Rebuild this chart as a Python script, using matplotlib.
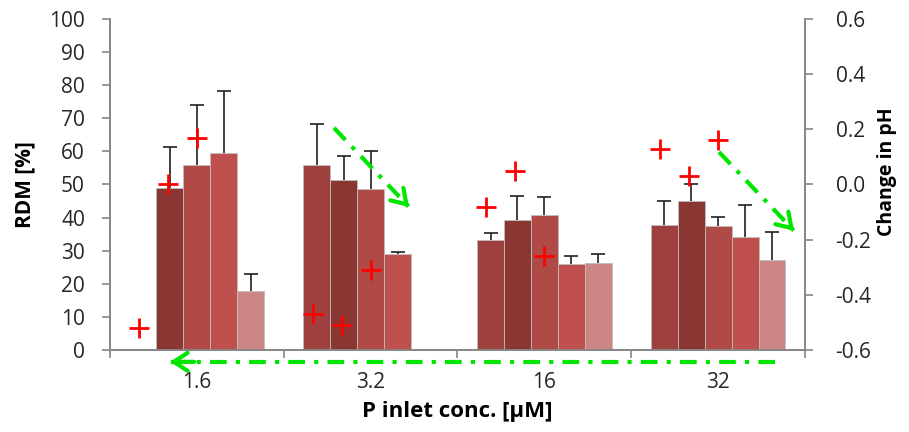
import numpy as np
import matplotlib
matplotlib.use('Agg')
import matplotlib.pyplot as plt

plt.rcParams['font.family'] = ['Open Sans', 'DejaVu Sans']

# categories on the x axis
categories = ['1.6', '3.2', '16', '32']

# RDM [%] bars, five series (NaN = no bar)
rdm_s1 = [np.nan, 56.0, 33.1, 37.7]
rdm_s2 = [49.0, 51.3, 39.3, 45.1]
rdm_s3 = [56.0, 48.5, 40.9, 37.3]
rdm_s4 = [59.5, 28.9, 26.1, 34.2]
rdm_s5 = [17.7, np.nan, 26.2, 27.3]

# upper error bars
err_s1 = [np.nan, 12.3, 2.2, 7.3]
err_s2 = [12.2, 7.3, 7.2, 5.0]
err_s3 = [18.1, 11.6, 5.2, 3.0]
err_s4 = [18.8, 0.6, 2.2, 9.6]
err_s5 = [5.3, np.nan, 2.8, 8.3]

# change in pH (red + markers), three series
ph_a = [-0.52, -0.47, -0.08, 0.13]
ph_b = [0.00, -0.51, 0.05, 0.03]
ph_c = [0.17, -0.31, -0.26, 0.16]

bar_colors = ['#9E413E', '#8A3734', '#AF4A47', '#C0504D', '#CC8685']
gray = '#868686'
text_col = '#262626'
green = '#00E600'

fig = plt.figure(figsize=(9.09, 4.32), dpi=100)
ax = fig.add_axes([0.121, 0.19, 0.7646, 0.766])
ax2 = ax.twinx()

x = np.arange(len(categories))
width = 0.155
series = [rdm_s1, rdm_s2, rdm_s3, rdm_s4, rdm_s5]
errs = [err_s1, err_s2, err_s3, err_s4, err_s5]
for k, (vals, err) in enumerate(zip(series, errs)):
    pos = x + (k - 2) * width
    vals = np.array(vals)
    err = np.array(err)
    ax.bar(pos, vals, width, color=bar_colors[k], edgecolor='#BDBDBD', linewidth=0.6, zorder=2)
    ok = ~np.isnan(vals)
    eb = ax.errorbar(pos[ok], vals[ok], yerr=[np.zeros(ok.sum()), err[ok]], fmt='none',
                     ecolor='#202020', elinewidth=1.2, capsize=5, capthick=1.2, zorder=3)
    # only the upper cap is wanted
    eb[1][0].set_visible(False)

for k, ph in enumerate([ph_a, ph_b, ph_c]):
    ax2.plot(x + (k - 2) * 0.167, ph, linestyle='none', marker='+', color='red',
             markersize=15, markeredgewidth=2, zorder=4)

ax.set_xlim(-0.5, 3.5)
ax.set_ylim(0, 100)
ax.set_yticks(range(0, 101, 10))
ax2.set_ylim(-0.6, 0.6)
ax2.set_yticks(np.arange(-0.6, 0.61, 0.2))
ax2.set_yticklabels([f'{v:.1f}' for v in np.arange(-0.6, 0.61, 0.2)])

# x ticks between categories, labels centred
ax.set_xticks(np.arange(-0.5, 3.6, 1.0))
ax.set_xticklabels([])
ax.set_xticks(x, minor=True)
ax.set_xticklabels(categories, minor=True)
ax.tick_params(axis='x', which='minor', length=0, pad=16, labelsize=15, labelcolor=text_col)
ax.tick_params(axis='x', which='major', length=6, color=gray, width=1.2)
ax.tick_params(axis='y', length=6, color=gray, width=1.2, pad=12, labelsize=15, labelcolor=text_col)
ax2.tick_params(axis='y', length=6, color=gray, width=1.2, pad=16, labelsize=15, labelcolor=text_col)

for a in (ax, ax2):
    a.spines['top'].set_visible(False)
    for s in ('left', 'right', 'bottom'):
        a.spines[s].set_color(gray)
        a.spines[s].set_linewidth(1.2)

ax.set_ylabel('RDM [%]', fontsize=15, fontweight='bold', color='black', va='center')
ax2.set_ylabel('Change in pH', fontsize=14, fontweight='bold', color='black', va='center')
ax.set_xlabel('P inlet conc. [µM]', fontsize=16, fontweight='bold', color='black', va='center')
ax.yaxis.set_label_coords(-0.122, 0.5)
ax2.yaxis.set_label_coords(1.118, 0.54)
ax.xaxis.set_label_coords(0.5, -0.187)


def trend_arrow(start, end):
    # dash-dot shaft plus a solid open arrow head
    ax.plot([start[0], end[0]], [start[1], end[1]], color=green, lw=3,
            linestyle=(0, (4, 2.2, 1, 2.2)), dash_capstyle='butt', clip_on=False, zorder=5)
    back = (end[0] - 0.04 * (end[0] - start[0]), end[1] - 0.04 * (end[1] - start[1]))
    ax.annotate('', xy=end, xytext=back, annotation_clip=False, zorder=5,
                arrowprops=dict(arrowstyle='->,head_length=1.0,head_width=0.65',
                                color=green, lw=3, shrinkA=0, shrinkB=0))


trend_arrow((0.789, 67.1), (1.221, 43.2))
trend_arrow((3.005, 59.8), (3.437, 36.0))
trend_arrow((3.327, -3.6), (-0.155, -3.6))

fig.savefig('out.png', dpi=100)
